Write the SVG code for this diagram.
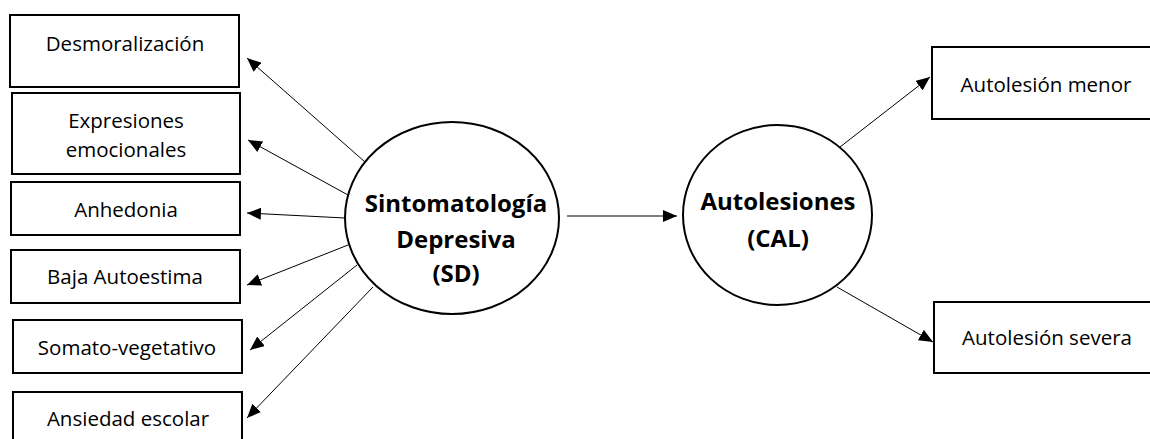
<svg xmlns="http://www.w3.org/2000/svg" width="1150" height="439" viewBox="0 0 1150 439">
  <style>
    .box { fill: #ffffff; stroke: #000000; stroke-width: 2; }
    .latent { fill: #ffffff; stroke: #000000; stroke-width: 2; }
    .lbl { font-family: "Open Sans", "Liberation Sans", sans-serif; font-size: 20.5px; fill: #000000; text-anchor: middle; }
    .big { font-family: "Open Sans", "Liberation Sans", sans-serif; font-size: 24px; font-weight: bold; fill: #000000; text-anchor: middle; }
    .edge { stroke: #000000; stroke-width: 1; fill: none; marker-end: url(#head); }
  </style>
  <defs>
    <marker id="head" markerUnits="userSpaceOnUse" markerWidth="14" markerHeight="12" refX="14" refY="6" orient="auto">
      <path d="M0,0 L14,6 L0,12 Z" fill="#000000"/>
    </marker>
  </defs>
  <rect width="1150" height="439" fill="#ffffff"/>

  <g id="connectors">
    <line class="edge" x1="365" y1="162" x2="247" y2="58"/>
    <line class="edge" x1="348" y1="195" x2="248" y2="140"/>
    <line class="edge" x1="345" y1="218" x2="247" y2="213"/>
    <line class="edge" x1="348" y1="245" x2="247" y2="285"/>
    <line class="edge" x1="357" y1="265" x2="250" y2="350"/>
    <line class="edge" x1="373" y1="287" x2="247" y2="418"/>
    <line class="edge" x1="567" y1="216" x2="677" y2="216"/>
    <line class="edge" x1="840" y1="147" x2="930" y2="77"/>
    <line class="edge" x1="837" y1="287" x2="933" y2="342"/>
  </g>

  <g id="desmoralizacion">
    <rect class="box" x="10" y="15" width="229" height="72"/>
    <text class="lbl" x="125" y="51">Desmoralización</text>
  </g>
  <g id="expresiones">
    <rect class="box" x="12" y="93" width="228" height="81"/>
    <text class="lbl" x="126" y="128">Expresiones</text>
    <text class="lbl" x="126" y="157">emocionales</text>
  </g>
  <g id="anhedonia">
    <rect class="box" x="11" y="182" width="229" height="53"/>
    <text class="lbl" x="126" y="217">Anhedonia</text>
  </g>
  <g id="baja-autoestima">
    <rect class="box" x="11" y="250" width="229" height="53"/>
    <text class="lbl" x="125" y="284">Baja Autoestima</text>
  </g>
  <g id="somato-vegetativo">
    <rect class="box" x="13" y="320" width="229" height="53"/>
    <text class="lbl" x="127" y="355">Somato-vegetativo</text>
  </g>
  <g id="ansiedad-escolar">
    <rect class="box" x="13" y="392" width="229" height="60"/>
    <text class="lbl" x="128" y="426">Ansiedad escolar</text>
  </g>

  <g id="sintomatologia-depresiva">
    <ellipse class="latent" cx="452" cy="218" rx="107" ry="96"/>
    <text class="big" x="456" y="212">Sintomatología</text>
    <text class="big" x="456" y="248">Depresiva</text>
    <text class="big" x="456" y="282">(SD)</text>
  </g>

  <g id="autolesiones">
    <ellipse class="latent" cx="777.5" cy="215" rx="94.5" ry="90"/>
    <text class="big" x="778" y="210">Autolesiones</text>
    <text class="big" x="778" y="247">(CAL)</text>
  </g>

  <g id="autolesion-menor">
    <rect class="box" x="932" y="47" width="230" height="72"/>
    <text class="lbl" x="1046" y="92">Autolesión menor</text>
  </g>
  <g id="autolesion-severa">
    <rect class="box" x="934" y="302" width="228" height="71"/>
    <text class="lbl" x="1047" y="345">Autolesión severa</text>
  </g>
</svg>
